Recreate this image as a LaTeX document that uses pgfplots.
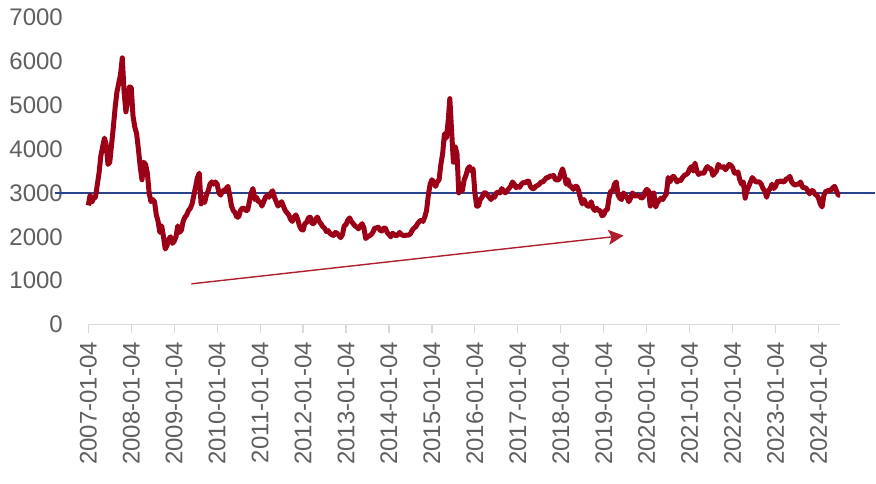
\documentclass[border=0pt]{standalone}
\usepackage{fontspec}
\setmainfont{Liberation Sans}
\usepackage{pgfplots}
\usepackage{pgfplotstable}
\pgfplotsset{compat=1.18}
\usetikzlibrary{arrows.meta}
\definecolor{sse}{RGB}{155,0,22}
\definecolor{refl}{RGB}{40,66,140}
\definecolor{arr}{RGB}{175,30,45}
\definecolor{lbl}{RGB}{95,95,95}
\definecolor{axl}{RGB}{217,217,217}

\pgfplotstableread[row sep=\\]{
y\\
2715\\2950\\2790\\2880\\2900\\3180\\3450\\3840\\4050\\4250\\4100\\3650\\3700\\4100\\4500\\4950\\5300\\5500\\5700\\6080\\5300\\4850\\5100\\5420\\
5400\\4750\\4500\\4350\\4000\\3600\\3300\\3700\\3650\\3450\\3000\\2800\\2850\\2800\\2500\\2350\\2100\\2250\\2000\\1720\\1800\\1950\\2000\\1850\\
1900\\2000\\2250\\2100\\2150\\2350\\2450\\2500\\2600\\2650\\2750\\2950\\3150\\3350\\3450\\2750\\2900\\2780\\2950\\3050\\3200\\3250\\3200\\3250\\
3200\\3000\\2950\\3050\\3050\\3100\\3150\\2950\\2700\\2600\\2550\\2450\\2450\\2600\\2650\\2650\\2600\\2600\\2800\\3000\\3100\\2850\\2900\\2800\\
2800\\2700\\2800\\2900\\2950\\2900\\3000\\3050\\2900\\2800\\2700\\2750\\2800\\2700\\2600\\2550\\2500\\2400\\2350\\2450\\2500\\2400\\2250\\2170\\
2150\\2300\\2330\\2430\\2450\\2300\\2300\\2400\\2450\\2350\\2300\\2230\\2200\\2120\\2140\\2080\\2050\\2030\\2100\\2080\\2030\\1980\\2050\\2250\\
2280\\2380\\2430\\2350\\2300\\2250\\2220\\2180\\2250\\2300\\2200\\1960\\2000\\2020\\2050\\2100\\2200\\2200\\2220\\2150\\2130\\2200\\2200\\2100\\
2050\\2000\\2080\\2050\\2020\\2050\\2100\\2050\\2030\\2030\\2040\\2040\\2070\\2150\\2200\\2230\\2300\\2350\\2380\\2350\\2450\\2600\\2950\\3200\\
3300\\3250\\3150\\3250\\3300\\3650\\3900\\4350\\4250\\4600\\5150\\4400\\3700\\4050\\3900\\3000\\3150\\3050\\3300\\3400\\3550\\3600\\3500\\3550\\
3000\\2700\\2700\\2850\\2900\\3000\\3000\\2950\\2900\\2850\\2920\\2900\\3000\\3020\\3000\\3100\\3050\\3000\\3050\\3100\\3150\\3250\\3200\\3120\\
3150\\3130\\3200\\3240\\3230\\3260\\3270\\3150\\3100\\3100\\3150\\3170\\3200\\3250\\3250\\3300\\3350\\3350\\3390\\3380\\3400\\3300\\3300\\3300\\
3450\\3550\\3400\\3200\\3300\\3150\\3150\\3080\\3150\\3150\\3050\\2870\\2750\\2850\\2750\\2700\\2700\\2800\\2650\\2600\\2650\\2600\\2600\\2480\\
2500\\2600\\2620\\2900\\3050\\3050\\3200\\3250\\2950\\2880\\2850\\3000\\2950\\2900\\2800\\2880\\3000\\2950\\2920\\2950\\2920\\2880\\2900\\3020\\
3080\\3050\\2700\\2980\\3000\\2680\\2780\\2830\\2880\\2850\\2920\\2980\\3350\\3250\\3350\\3380\\3320\\3250\\3300\\3280\\3350\\3400\\3420\\3450\\
3550\\3600\\3500\\3680\\3500\\3420\\3450\\3450\\3450\\3550\\3600\\3560\\3550\\3400\\3450\\3500\\3650\\3600\\3580\\3600\\3530\\3580\\3650\\3630\\
3580\\3450\\3450\\3480\\3300\\3200\\3250\\2880\\3050\\3150\\3250\\3350\\3300\\3250\\3250\\3250\\3200\\3100\\3050\\2900\\3050\\3100\\3200\\3100\\
3150\\3260\\3250\\3280\\3250\\3260\\3320\\3330\\3380\\3250\\3200\\3180\\3200\\3200\\3250\\3130\\3120\\3110\\3050\\2980\\3050\\3050\\2970\\2950\\
2880\\2750\\2680\\2950\\3030\\3050\\3050\\3070\\3120\\3150\\3050\\2950\\2950\\
}\sseData

\begin{document}
\begin{tikzpicture}
\begin{axis}[
  at={(88.3pt,158.5pt)}, anchor=south west,
  scale only axis, width=751.7pt, height=307pt,
  xmin=2007, xmax=2024.5, ymin=0, ymax=7000,
  xtick={2007,2008,2009,2010,2011,2012,2013,2014,2015,2016,2017,2018,2019,2020,2021,2022,2023,2024},
  xticklabels={2007-01-04,2008-01-04,2009-01-04,2010-01-04,2011-01-04,2012-01-04,2013-01-04,2014-01-04,2015-01-04,2016-01-04,2017-01-04,2018-01-04,2019-01-04,2020-01-04,2021-01-04,2022-01-04,2023-01-04,2024-01-04},
  ytick={0,1000,2000,3000,4000,5000,6000,7000},
  axis x line=bottom, axis y line=left,
  x axis line style={draw=axl, line width=1.5pt, -},
  y axis line style={draw=none},
  xtick style={draw=axl, line width=1.2pt},
  ytick style={draw=none},
  tick align=outside, major tick length=8pt,
  ticklabel style={font=\fontsize{24}{24}\selectfont, text=lbl},
  /pgf/number format/assume math mode=true,
  /pgf/number format/set thousands separator={},
  xticklabel style={rotate=90, anchor=east, xshift=-6pt},
  yticklabel style={anchor=east, xshift=-14pt},
  clip=false,
]
\addplot[refl, line width=1.8pt] coordinates {(2006.23,3000) (2025.32,3000)};
\addplot[sse, line width=5pt, line join=round] table[x expr=2007+\coordindex/24, y=y] {\sseData};
\addplot[arr, line width=1.4pt, -{Stealth[length=15pt,width=15pt,inset=3pt]}] coordinates {(2009.40,927) (2019.46,2027)};
\end{axis}
\pgfresetboundingbox
\path[use as bounding box] (0,0) rectangle (876pt,483pt);
\end{tikzpicture}
\end{document}
